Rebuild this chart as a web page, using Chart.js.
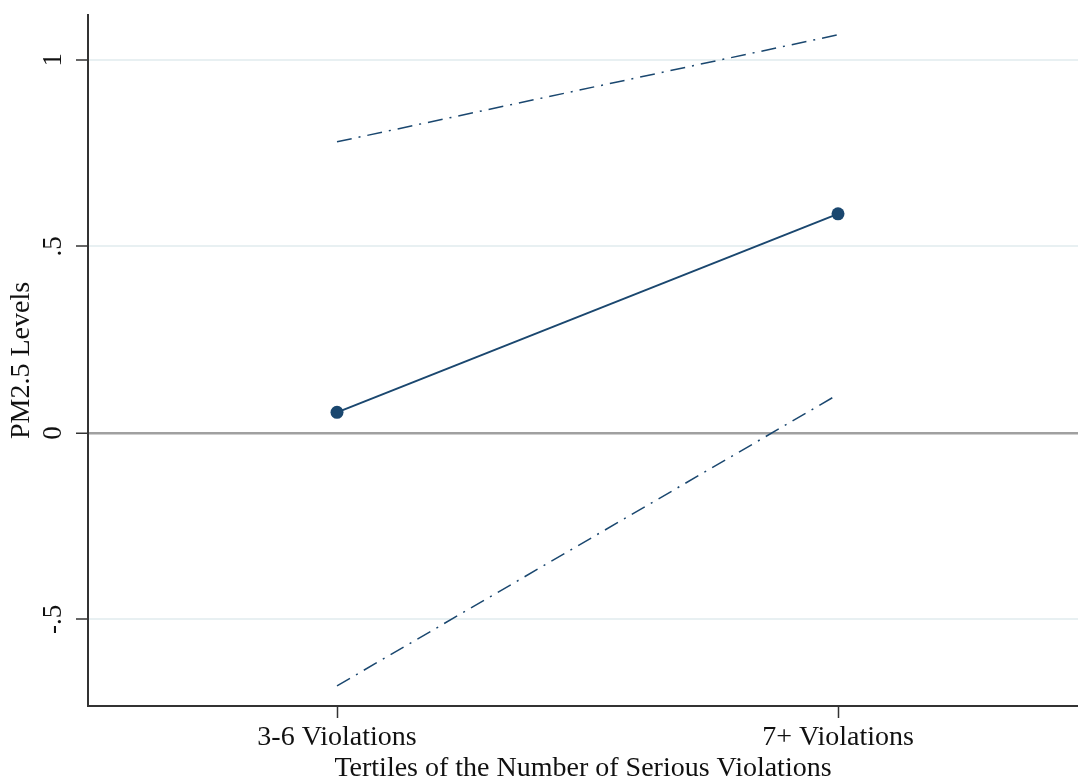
<!DOCTYPE html>
<html>
<head>
<meta charset="utf-8">
<script src="https://cdn.jsdelivr.net/npm/chart.js@4.4.1/dist/chart.umd.min.js"></script>
<style>
  html, body { margin: 0; padding: 0; background: #fff; overflow: hidden; }
  #wrap { width: 1078px; height: 777px; position: relative; }
</style>
</head>
<body>
<div id="wrap"><canvas id="chart"></canvas></div>
<script>
// categories sit at x = 1 and x = 2
const categories = ['3-6 Violations', '7+ Violations'];
const categoryPos = [1, 2];
const estimate = [0.055, 0.587];
const upperCI = [0.780, 1.067];
const lowerCI = [-0.678, 0.103];
const yTicks = [-0.5, 0, 0.5, 1];
const yTickLabels = ['-.5', '0', '.5', '1'];

const navy = '#1a476f';
const serif = "'Liberation Serif', 'Times New Roman', serif";

const toPoints = vals => vals.map((v, i) => ({ x: categoryPos[i], y: v }));

// y tick labels are rotated in the original (Stata style)
const rotatedYTicks = {
    id: 'rotatedYTicks',
    afterDraw(chart) {
        const y = chart.scales.y;
        const ctx = chart.ctx;
        ctx.save();
        ctx.font = '27px ' + serif;
        ctx.fillStyle = '#111';
        ctx.textAlign = 'center';
        ctx.textBaseline = 'middle';
        yTicks.forEach((v, i) => {
            const py = y.getPixelForValue(v);
            ctx.save();
            ctx.translate(54, py);
            ctx.rotate(-Math.PI / 2);
            ctx.fillText(yTickLabels[i], 0, 0);
            ctx.restore();
        });
        ctx.restore();
    }
};

new Chart(document.getElementById('chart'), {
    type: 'line',
    data: {
        datasets: [
            {
                label: 'Upper CI',
                data: toPoints(upperCI),
                borderColor: navy,
                borderWidth: 1.5,
                borderDash: [15, 7, 2, 7],
                pointRadius: 0,
                fill: false
            },
            {
                label: 'Estimate',
                data: toPoints(estimate),
                borderColor: navy,
                backgroundColor: navy,
                borderWidth: 2,
                pointRadius: 6.5,
                pointBackgroundColor: navy,
                pointBorderWidth: 0,
                fill: false
            },
            {
                label: 'Lower CI',
                data: toPoints(lowerCI),
                borderColor: navy,
                borderWidth: 1.5,
                borderDash: [15, 7, 2, 7],
                pointRadius: 0,
                fill: false
            }
        ]
    },
    options: {
        responsive: true,
        maintainAspectRatio: false,
        animation: false,
        layout: { autoPadding: false, padding: { top: 15, right: 0, bottom: 0, left: 0 } },
        plugins: {
            legend: { display: false },
            tooltip: { enabled: false }
        },
        scales: {
            x: {
                type: 'linear',
                min: 0.503,
                max: 2.479,
                afterBuildTicks: scale => {
                    scale.ticks = categoryPos.map(v => ({ value: v }));
                },
                afterFit: scale => { scale.height = 71; },
                ticks: {
                    autoSkip: false,
                    maxRotation: 0,
                    padding: 3,
                    color: '#111',
                    font: { family: serif, size: 28 },
                    callback: v => categories[categoryPos.indexOf(v)] || ''
                },
                grid: {
                    drawOnChartArea: false,
                    drawTicks: true,
                    tickLength: 12,
                    tickColor: '#333',
                    tickWidth: 1.5
                },
                border: { color: '#333', width: 2 },
                title: {
                    display: true,
                    text: 'Tertiles of the Number of Serious Violations',
                    color: '#111',
                    font: { family: serif, size: 28, lineHeight: 1 },
                    padding: { top: 0, bottom: -6 }
                }
            },
            y: {
                min: -0.732,
                max: 1.12,
                afterBuildTicks: scale => {
                    scale.ticks = yTicks.map(v => ({ value: v }));
                },
                afterFit: scale => { scale.width = 88; },
                ticks: { display: false },
                grid: {
                    color: ctx => ctx.tick && ctx.tick.value === 0 ? '#a0a0a0' : '#e8f0f2',
                    lineWidth: ctx => ctx.tick && ctx.tick.value === 0 ? 2.5 : 2,
                    drawTicks: true,
                    tickLength: 12,
                    tickColor: '#333',
                    tickWidth: 1.5
                },
                border: { color: '#333', width: 2 },
                title: {
                    display: true,
                    text: 'PM2.5 Levels',
                    color: '#111',
                    font: { family: serif, size: 28, lineHeight: 1 },
                    padding: { top: 8, bottom: 0 }
                }
            }
        }
    },
    plugins: [rotatedYTicks]
});
</script>
</body>
</html>
